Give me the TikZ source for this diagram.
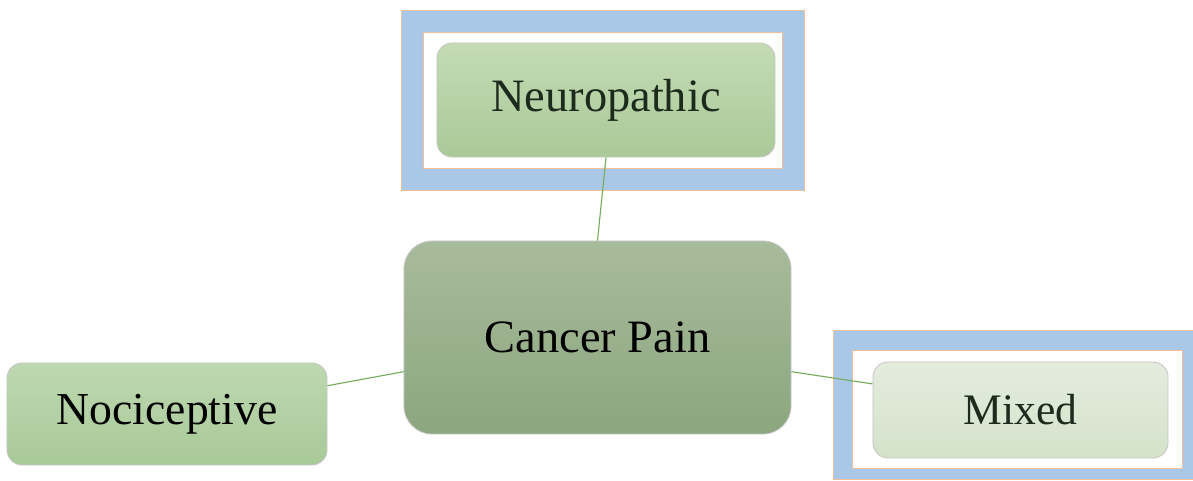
\documentclass[tikz,border=0pt]{standalone}
\usepackage{fontspec}
\setmainfont{Liberation Serif}
\usetikzlibrary{positioning}

\definecolor{framebl}{HTML}{A9C8E8}
\definecolor{frameor}{HTML}{F3BE98}
\definecolor{linkgr}{HTML}{74AC5C}
\definecolor{inktext}{HTML}{1C2B1C}

\begin{document}
\begin{tikzpicture}[x=0.025cm,y=-0.025cm,
    box/.style={draw=black!22,line width=0.6pt,inner sep=0pt,align=center},
    neuro/.style={box,rounded corners=0.38cm,minimum width=8.45cm,minimum height=2.85cm,
      top color={rgb,255:red,196;green,219;blue,180},
      bottom color={rgb,255:red,170;green,201;blue,152},text=inktext,
      font=\fontsize{33}{38}\selectfont},
    cancer/.style={box,rounded corners=0.7cm,minimum width=9.675cm,minimum height=4.825cm,
      top color={rgb,255:red,168;green,187;blue,156},bottom color={rgb,255:red,140;green,166;blue,127},
      font=\fontsize{33}{38}\selectfont},
    noci/.style={box,rounded corners=0.38cm,minimum width=8cm,minimum height=2.55cm,
      top color={rgb,255:red,190;green,216;blue,176},bottom color={rgb,255:red,168;green,201;blue,152},
      font=\fontsize{32.5}{38}\selectfont},
    mixed/.style={box,rounded corners=0.38cm,minimum width=7.375cm,minimum height=2.4cm,
      top color={rgb,255:red,228;green,236;blue,222},bottom color={rgb,255:red,212;green,226;blue,202},
      text=inktext,font=\fontsize{31}{36}\selectfont},
    link/.style={draw=linkgr,line width=0.8pt}]
  \useasboundingbox (0,0) rectangle (1193,481);

  % blue frames round the two outer boxes
  \fill[framebl] (401,10) rectangle (804,190);
  \fill[white] (423,32) rectangle (782,168);
  \draw[frameor,line width=0.7pt] (401,10) rectangle (804,190) (423,32) rectangle (782,168);
  \fill[framebl] (833,330) rectangle (1193,479);
  \fill[white] (852,350) rectangle (1182,468);
  \draw[frameor,line width=0.7pt] (833,330) rectangle (1193,479) (852,350) rectangle (1182,468);

  \path
    (606,100) node[neuro] (neuro) {Neuropathic}
    (597.5,337.5) node[cancer] (cancer) {Cancer Pain}
    (167,414) node[noci] (noci) {Nociceptive}
    (1020.5,410) node[mixed] (mixed) {Mixed};

  \draw[link] (neuro.south) -- (cancer.north);
  \draw[link] (cancer.190) -- (noci.10.6);
  \draw[link] (cancer.350.5) -- (mixed.170.4);
\end{tikzpicture}
\end{document}
